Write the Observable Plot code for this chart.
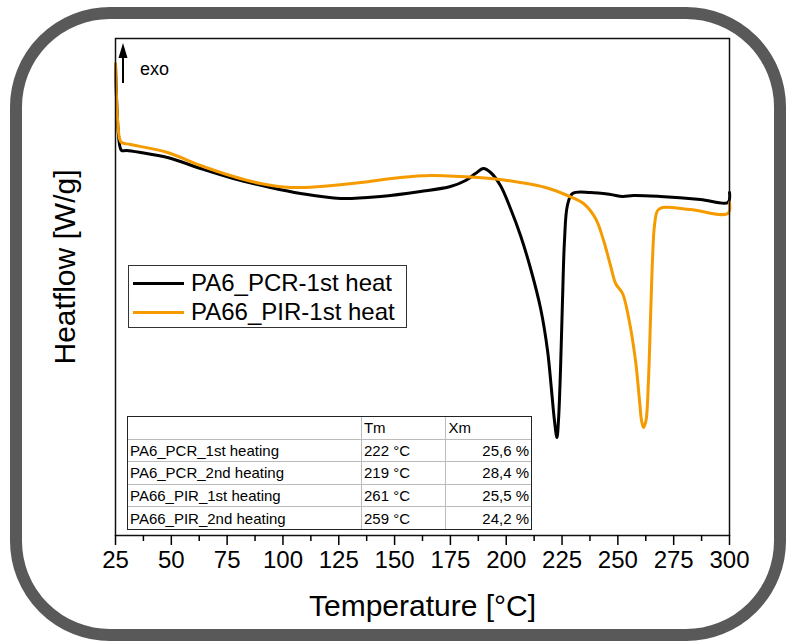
<!DOCTYPE html>
<html>
<head>
<meta charset="utf-8">
<script src="https://cdn.jsdelivr.net/npm/d3@7"></script>
<script src="https://cdn.jsdelivr.net/npm/@observablehq/plot@0.6"></script>
<style>
  body { margin: 0; background: #fff; font-family: "Liberation Sans", Arial, sans-serif; }
  #wrap { position: relative; width: 786px; height: 641px; overflow: hidden; }
  #border { position: absolute; left: 10px; top: 7px; width: 776px; height: 634px; box-sizing: border-box;
            border: 12px solid #595959; border-radius: 100px; pointer-events: none; }
  #legend { position: absolute; left: 128px; top: 265px; width: 279px; height: 63px; box-sizing: border-box;
            border: 1px solid #333; background: #fff; font-size: 24px; color: #000; }
  .lrow { position: absolute; left: 0; height: 28px; display: flex; align-items: center; }
  .lrow .sw { width: 51px; height: 3px; margin-left: 4px; margin-right: 7px; }
  #tbl { position: absolute; left: 127px; top: 416px; width: 405px; border-collapse: separate; border-spacing: 0;
         font-size: 15px; color: #000; background: #fff; border: 1px solid #222; box-sizing: border-box; }
  #tbl td { border-right: 1px solid #bbb; border-bottom: 1px solid #bbb; height: 21.6px; padding: 0 2px;
            line-height: 21px; white-space: nowrap; }
  #tbl td:last-child { border-right: none; }
  #tbl tr:last-child td { border-bottom: none; }
  #tbl td.r { text-align: right; }
  #exo { position: absolute; left: 0; top: 0; pointer-events: none; }
</style>
</head>
<body>
<div id="wrap"></div>
<script>
// --- data -------------------------------------------------------------
const pcrTemp = [25.0, 26.8, 27.7, 29.9, 36.2, 48.3, 63.1, 77.8, 94.4, 107.9, 125.8, 143.7, 161.6, 175.0, 181.8, 186.2, 189.8, 193.0, 197.4, 201.9, 206.4, 210.9, 215.4, 218.5, 220.3, 221.6, 222.7, 223.4, 224.3, 225.2, 226.1, 227.4, 229.7, 237.7, 246.7, 252.1, 257.0, 269.1, 287.0, 299.3, 300.0];
const pcrHeat = [2.35, 1.56, 1.50, 1.50, 1.48, 1.43, 1.32, 1.22, 1.13, 1.07, 1.02, 1.04, 1.09, 1.14, 1.20, 1.27, 1.32, 1.28, 1.15, 0.92, 0.65, 0.32, -0.08, -0.50, -0.90, -1.20, -1.37, -1.20, -0.70, 0.00, 0.60, 0.95, 1.07, 1.08, 1.06, 1.04, 1.05, 1.04, 1.01, 0.98, 1.08];

const pirTemp = [25.0, 26.8, 27.7, 31.7, 48.3, 63.1, 77.8, 89.9, 103.4, 116.8, 134.7, 152.6, 166.1, 179.5, 193.0, 206.4, 217.6, 227.4, 234.6, 240.0, 243.6, 246.7, 249.0, 252.1, 254.8, 257.9, 259.7, 260.6, 261.5, 262.6, 263.7, 264.6, 265.5, 266.4, 267.8, 270.0, 282.5, 299.3, 300.0];
const pirHeat = [2.37, 1.62, 1.58, 1.56, 1.48, 1.35, 1.24, 1.17, 1.13, 1.14, 1.18, 1.23, 1.25, 1.24, 1.22, 1.18, 1.13, 1.05, 0.97, 0.82, 0.60, 0.35, 0.17, 0.07, -0.17, -0.60, -1.00, -1.20, -1.27, -1.20, -0.80, -0.20, 0.40, 0.75, 0.90, 0.93, 0.91, 0.87, 0.98];

const seriesNames = ["PA6_PCR-1st heat", "PA66_PIR-1st heat"];
const seriesColors = ["#000000", "#f59b00"];

const xMajorTicks = [25, 50, 75, 100, 125, 150, 175, 200, 225, 250, 275, 300];
const xMinorTicks = [37.5, 62.5, 87.5, 112.5, 137.5, 162.5, 187.5, 212.5, 237.5, 262.5, 287.5];

const tableHeader = ["", "Tm", "Xm"];
const tableNames = ["PA6_PCR_1st heating", "PA6_PCR_2nd heating", "PA66_PIR_1st heating", "PA66_PIR_2nd heating"];
const tableTm = ["222 °C", "219 °C", "261 °C", "259 °C"];
const tableXm = ["25,6 %", "28,4 %", "25,5 %", "24,2 %"];

const xTitle = "Temperature [°C]";
const yTitle = "Heatflow [W/g]";
const exoLabel = "exo";

// --- build ------------------------------------------------------------
const pcr = pcrTemp.map((t, i) => ({t, h: pcrHeat[i]}));
const pir = pirTemp.map((t, i) => ({t, h: pirHeat[i]}));

const chart = Plot.plot({
  width: 786,
  height: 641,
  marginTop: 38,
  marginRight: 57,
  marginBottom: 106,
  marginLeft: 115,
  style: {fontFamily: "Liberation Sans, Arial, sans-serif", background: "transparent", color: "#000"},
  x: {domain: [25, 300]},
  y: {domain: [-2.35, 2.62], axis: null},
  marks: [
    Plot.line(pcr, {x: "t", y: "h", stroke: seriesColors[0], strokeWidth: 3, curve: "catmull-rom"}),
    Plot.line(pir, {x: "t", y: "h", stroke: seriesColors[1], strokeWidth: 3, curve: "catmull-rom"}),
    Plot.frame({stroke: "#111", strokeWidth: 1.5}),
    Plot.axisX(xMajorTicks, {anchor: "bottom", tickSize: 10, tickPadding: 5, fontSize: 24, strokeWidth: 1.5, label: null, tickFormat: d => String(d)}),
    Plot.axisX(xMinorTicks, {anchor: "bottom", tickSize: 6, strokeWidth: 1.5, label: null, tickFormat: () => ""}),
    Plot.text([xTitle], {frameAnchor: "bottom", dy: 71, fontSize: 30, lineAnchor: "middle", textAnchor: "middle"}),
    Plot.text([yTitle], {frameAnchor: "left", dx: -50, dy: -20, rotate: -90, fontSize: 30, lineAnchor: "middle", textAnchor: "middle"})
  ]
});

const wrap = document.getElementById("wrap");
wrap.appendChild(chart);

// exo arrow
const ns = "http://www.w3.org/2000/svg";
const exo = document.createElementNS(ns, "svg");
exo.setAttribute("id", "exo");
exo.setAttribute("width", 786);
exo.setAttribute("height", 641);
exo.innerHTML = `<line x1="123" y1="83" x2="123" y2="56" stroke="#000" stroke-width="2"/>
  <path d="M123,43 L127.5,58 L118.5,58 Z" fill="#000"/>
  <text x="140" y="75" font-size="18" font-family="Liberation Sans, Arial, sans-serif">${exoLabel}</text>`;
wrap.appendChild(exo);

// legend
const legend = document.createElement("div");
legend.id = "legend";
seriesNames.forEach((name, i) => {
  const row = document.createElement("div");
  row.className = "lrow";
  row.style.top = (3 + i * 29) + "px";
  row.innerHTML = `<div class="sw" style="background:${seriesColors[i]}"></div><span>${name}</span>`;
  legend.appendChild(row);
});
wrap.appendChild(legend);

// table
const tbl = document.createElement("table");
tbl.id = "tbl";
let html = `<colgroup><col style="width:235px"><col style="width:85px"><col style="width:85px"></colgroup>`;
html += `<tr><td>${tableHeader[0]}</td><td>${tableHeader[1]}</td><td>${tableHeader[2]}</td></tr>`;
tableNames.forEach((n, i) => {
  html += `<tr><td>${n}</td><td>${tableTm[i]}</td><td class="r">${tableXm[i]}</td></tr>`;
});
tbl.innerHTML = html;
wrap.appendChild(tbl);

// rounded border
const border = document.createElement("div");
border.id = "border";
wrap.appendChild(border);
</script>
</body>
</html>
